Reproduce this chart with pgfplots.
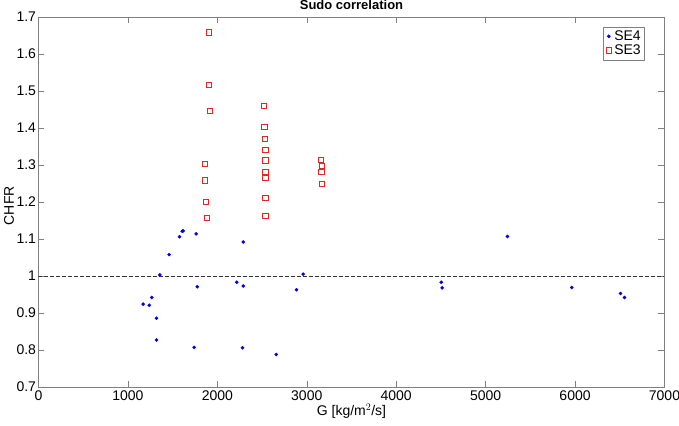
\documentclass[border=0pt]{standalone}
\usepackage{fontspec}
\setmainfont{Liberation Sans}
\usepackage{pgfplots}
\pgfplotsset{compat=1.18}
\definecolor{mblue}{RGB}{0,0,230}
\definecolor{mred}{RGB}{225,40,40}
\begin{document}
\begin{tikzpicture}
\begin{axis}[
  scale only axis, width=626bp, height=370bp,
  xmin=0, xmax=7000, ymin=0.7, ymax=1.7,
  xtick={0,1000,2000,3000,4000,5000,6000,7000},
  ytick={0.7,0.8,0.9,1,1.1,1.2,1.3,1.4,1.5,1.6,1.7},
  scaled ticks=false,
  /pgf/number format/1000 sep={},
  /pgf/number format/assume math mode=true,
  tick align=inside,
  major tick length=6bp,
  axis line style={black!50},
  every tick/.style={black!50},
  ticklabel style={font=\fontsize{14bp}{16bp}\selectfont},
  yticklabel style={xshift=1bp},
  xlabel={G [kg/m$^2$/s]},
  ylabel={CHFR},
  label style={font=\fontsize{14bp}{16bp}\selectfont},
  xlabel style={yshift=3bp},
  ylabel style={at={(axis description cs:-0.047,0.49)}, anchor=center},
  title={Sudo correlation},
  title style={at={(axis description cs:0.5,1)}, anchor=base, yshift=1.5bp, inner sep=0pt, font=\bfseries\fontsize{13bp}{15bp}\selectfont},
  legend style={at={(rel axis cs:0.968,0.973)}, anchor=north east, draw=black!50, font=\fontsize{14bp}{16bp}\selectfont, row sep=0bp, inner xsep=2bp, inner ysep=2bp, nodes={inner sep=1.5bp}},
  legend image code/.code={\path (0bp,0bp) (7bp,0bp); \draw[#1, only marks] plot coordinates {(3.5bp,0bp)};},
  legend cell align=left,
]
\addplot[only marks, mark=*, mark size=1.6bp, color=mblue] coordinates {
(1171,0.924) (1238,0.921) (1267,0.942) (1319,0.886) (1319,0.827)
(1356,1.003) (1461,1.058) (1577,1.106) (1607,1.121) (1618,1.122)
(1763,1.114) (1775,0.971) (1741,0.807) (2217,0.983) (2289,0.973)
(2289,1.092) (2281,0.806) (2658,0.788) (2885,0.963) (2960,1.005)
(4503,0.983) (4514,0.968) (5244,1.107) (5963,0.969) (6508,0.953) (6553,0.942)
};
\addlegendentry{SE4}
\addplot[only marks, mark=square, mark size=2.6bp, color=mred, line width=1bp] coordinates {
(1905,1.658) (1908,1.517) (1919,1.447) (1864,1.302) (1860,1.258) (1871,1.200) (1886,1.156)
(2520,1.459) (2527,1.402) (2531,1.371) (2538,1.341) (2538,1.312) (2538,1.280) (2538,1.265) (2538,1.210) (2538,1.162)
(3157,1.314) (3168,1.298) (3165,1.281) (3168,1.249)
};
\addlegendentry{SE3}
\addplot[black!80, dash pattern=on 4bp off 2bp, forget plot] coordinates {(0,1) (7000,1)};
\end{axis}
\pgfresetboundingbox
\path[use as bounding box] (current axis.south west) ++(-38.5bp,-39bp) rectangle ++(679bp,426bp);
\end{tikzpicture}
\end{document}
